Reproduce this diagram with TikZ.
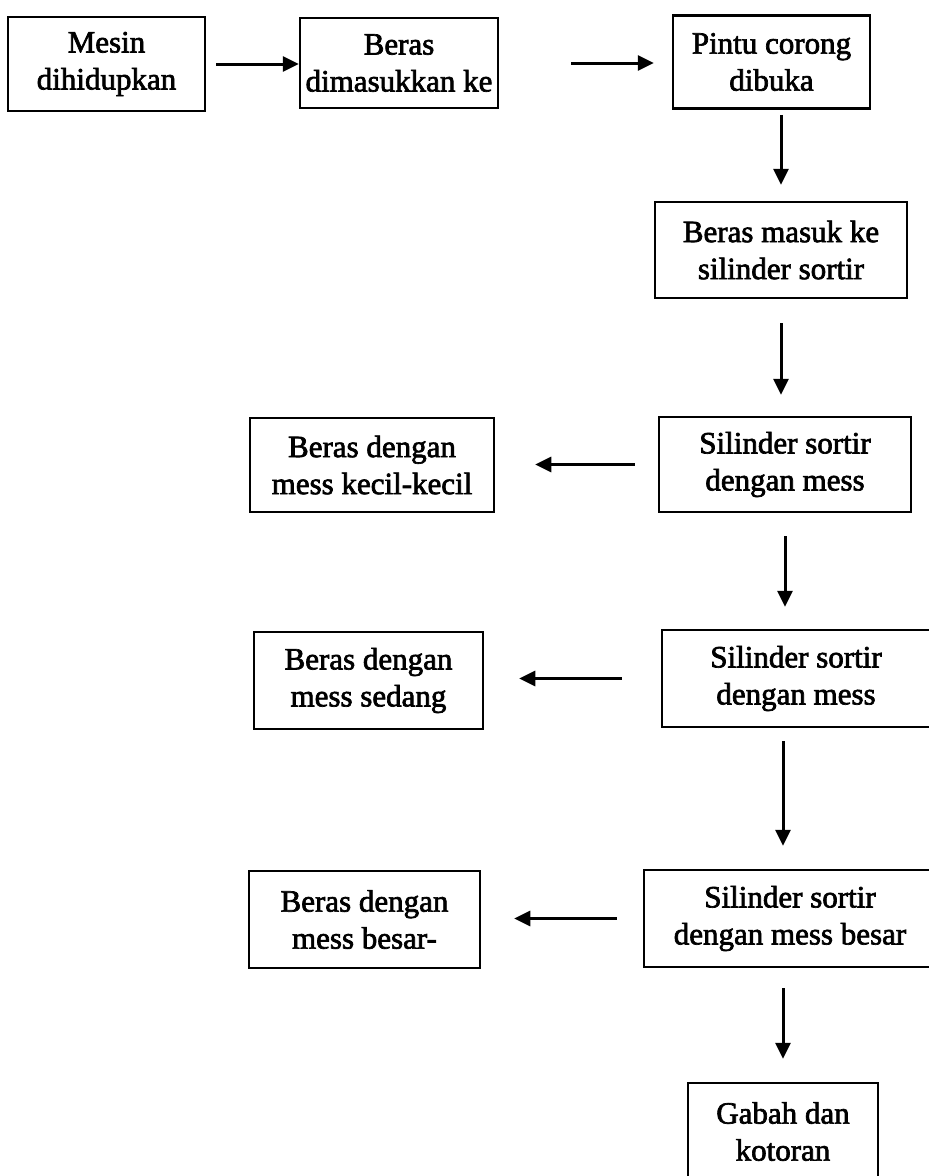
\documentclass[tikz,border=0pt]{standalone}
\usepackage{fontspec}
\setmainfont{Liberation Serif}[FakeBold=2.2]
\usepackage{tikz}
\usetikzlibrary{positioning, arrows.meta}

\begin{document}
\begin{tikzpicture}[x=1pt, y=-1pt,
        box/.style={rectangle, draw, line width=2.5pt, align=center, inner sep=0pt, minimum height=95pt, font=\fontsize{31}{37}\selectfont},
        arrow/.style={-{Triangle[length=16pt, width=15pt]}, line width=3pt}
    ]
        \useasboundingbox (0,0) rectangle (929,1176);
        % baris atas
        \node[box, minimum width=197pt, minimum height=94pt] (MESIN) at (106.5,64) {Mesin\\dihidupkan};
        \node[box, minimum width=198pt, minimum height=90pt] (MASUK) at (399,63) {Beras\\dimasukkan ke};
        \node[box, minimum width=197pt, minimum height=93pt] (PINTU) at (771.5,62) {Pintu corong\\dibuka};
        % kolom kanan
        \node[box, minimum width=252pt, minimum height=96pt] (SILINDER) at (781,250) {Beras masuk ke\\silinder sortir};
        \node[box, minimum width=252pt] (SORTIRA) at (785,464.5) {Silinder sortir\\dengan mess};
        \node[box, minimum width=268pt, minimum height=97pt] (SORTIRB) at (796,678.5) {Silinder sortir\\dengan mess};
        \node[box, minimum width=292pt, minimum height=97pt] (SORTIRC) at (790,918.5) {Silinder sortir\\dengan mess besar};
        \node[box, minimum width=190pt, minimum height=97pt] (GABAH) at (783,1131.5) {Gabah dan\\kotoran};
        % kolom kiri
        \node[box, minimum width=244pt, minimum height=94pt] (KECIL) at (372,465) {Beras dengan\\mess kecil-kecil};
        \node[box, minimum width=229pt, minimum height=97pt] (SEDANG) at (368.5,680.5) {Beras dengan\\mess sedang};
        \node[box, minimum width=231pt, minimum height=97pt] (BESAR) at (364.5,919.5) {Beras dengan\\mess besar-};

        \draw[arrow, shorten <=10pt] (MESIN.east) -- (MESIN.east -| MASUK.west);
        \draw[arrow, shorten <=72pt, shorten >=18pt] (MASUK.east) -- (MASUK.east -| PINTU.west);
        \draw[arrow, shorten <=5pt, shorten >=16pt] (PINTU.south -| SILINDER) -- (SILINDER.north);
        \draw[arrow, shorten <=24pt, shorten >=21pt] (SILINDER.south) -- (SILINDER.south |- SORTIRA.north);
        \draw[arrow, shorten <=23pt, shorten >=22pt] (SORTIRA.south) -- (SORTIRA.south |- SORTIRB.north);
        \draw[arrow, shorten <=13pt, shorten >=23pt] (SORTIRB.south -| GABAH) -- (SORTIRC.north -| GABAH);
        \draw[arrow, shorten <=20pt, shorten >=23pt] (SORTIRC.south -| GABAH) -- (GABAH.north);

        \draw[arrow, shorten <=23pt, shorten >=40pt] (SORTIRA.west) -- (SORTIRA.west -| KECIL.east);
        \draw[arrow, shorten <=39pt, shorten >=35pt] (SORTIRB.west) -- (SORTIRB.west -| SEDANG.east);
        \draw[arrow, shorten <=26pt, shorten >=33pt] (SORTIRC.west) -- (SORTIRC.west -| BESAR.east);
\end{tikzpicture}
\end{document}
